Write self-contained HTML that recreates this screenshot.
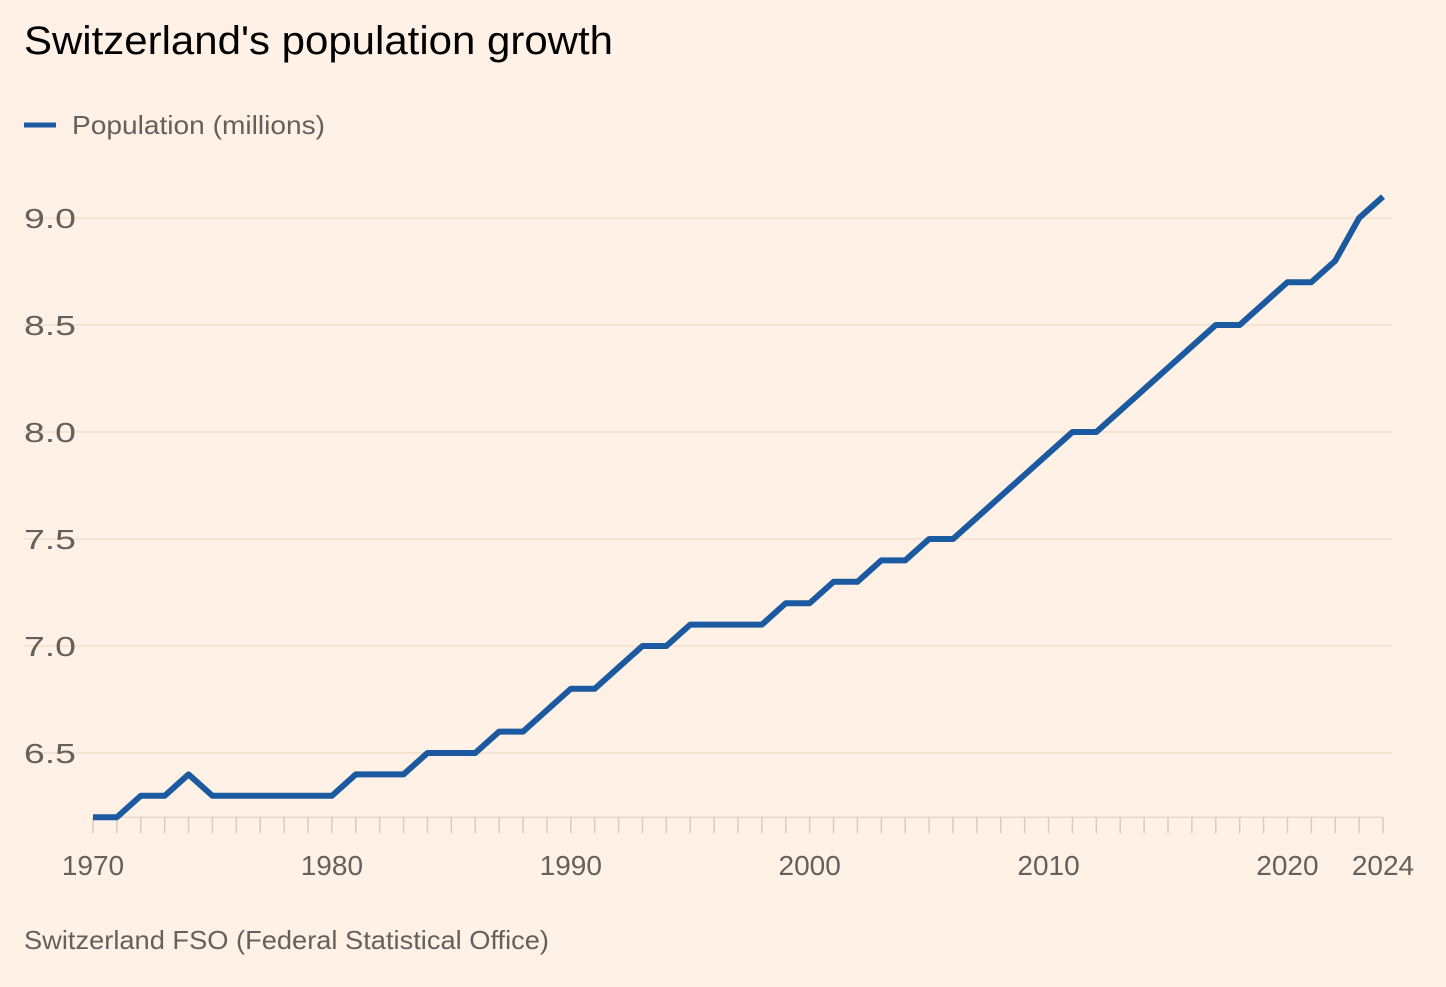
<!DOCTYPE html>
<html><head><meta charset="utf-8"><style>
body{margin:0;background:#fff1e5;width:1446px;height:982px;overflow:hidden;font-family:"Liberation Sans",sans-serif}
</style></head><body>
<svg width="1446" height="982" xmlns="http://www.w3.org/2000/svg">
<rect width="1446" height="982" fill="#fff1e5"/>
<text x="24" y="54" font-size="40" fill="#000" textLength="589" lengthAdjust="spacingAndGlyphs">Switzerland's population growth</text>
<line x1="24" y1="125" x2="56" y2="125" stroke="#1b5aa0" stroke-width="5"/>
<text x="72" y="134" font-size="26" fill="#66605c" textLength="253" lengthAdjust="spacingAndGlyphs">Population (millions)</text>
<g id="grid"></g><g id="ticks"></g><g id="plot"></g>
<text x="24" y="949" font-size="26" fill="#66605c" textLength="525" lengthAdjust="spacingAndGlyphs">Switzerland FSO (Federal Statistical Office)</text>
</svg>
<script>
const years=[1970,1971,1972,1973,1974,1975,1976,1977,1978,1979,1980,1981,1982,1983,1984,1985,1986,1987,1988,1989,1990,1991,1992,1993,1994,1995,1996,1997,1998,1999,2000,2001,2002,2003,2004,2005,2006,2007,2008,2009,2010,2011,2012,2013,2014,2015,2016,2017,2018,2019,2020,2021,2022,2023,2024];
const population=[6.2,6.2,6.3,6.3,6.4,6.3,6.3,6.3,6.3,6.3,6.3,6.4,6.4,6.4,6.5,6.5,6.5,6.6,6.6,6.7,6.8,6.8,6.9,7.0,7.0,7.1,7.1,7.1,7.1,7.2,7.2,7.3,7.3,7.4,7.4,7.5,7.5,7.6,7.7,7.8,7.9,8.0,8.0,8.1,8.2,8.3,8.4,8.5,8.5,8.6,8.7,8.7,8.8,9.0,9.1];
const yTicks=[6.5,7.0,7.5,8.0,8.5,9.0];
const xLabels=[1970,1980,1990,2000,2010,2020,2024];
const NS="http://www.w3.org/2000/svg";
const x=v=>93+(v-1970)*(1383-93)/54;
const y=v=>753-(v-6.5)*214;
function mk(t,a,p){const e=document.createElementNS(NS,t);for(const k in a)e.setAttribute(k,a[k]);p.appendChild(e);return e;}
const grid=document.getElementById('grid'),ticks=document.getElementById('ticks'),plot=document.getElementById('plot');
yTicks.forEach(v=>{
 const l=mk('line',{x1:24,x2:1392,y1:y(v),y2:y(v),stroke:'#f2dfcf','stroke-width':1.5},grid);
 
 
 const t=mk('text',{x:24,y:y(v)+10,'font-size':28,fill:'#66605c',textLength:52,lengthAdjust:'spacingAndGlyphs'},grid);
 t.textContent=v.toFixed(1);
 
 
});
const ax=mk('line',{x1:x(1970),x2:x(2024),y1:y(6.2),y2:y(6.2),stroke:'#e6d9ce','stroke-width':1.5},ticks);


years.forEach(yr=>{
 const l=mk('line',{x1:x(yr),x2:x(yr),y1:y(6.2),y2:y(6.2)+16,stroke:'#d9cbbf','stroke-width':1.5},ticks);
 
 
});
xLabels.forEach(yr=>{
 const t=mk('text',{x:x(yr),y:875,'font-size':28,fill:'#66605c','text-anchor':'middle'},ticks);
 t.textContent=yr;
 
 
});
const p=mk('polyline',{points:years.map((yr,i)=>x(yr)+','+y(population[i])).join(' '),fill:'none',stroke:'#1b5aa0','stroke-width':6,'stroke-linejoin':'round'},plot);


</script>
</body></html>
